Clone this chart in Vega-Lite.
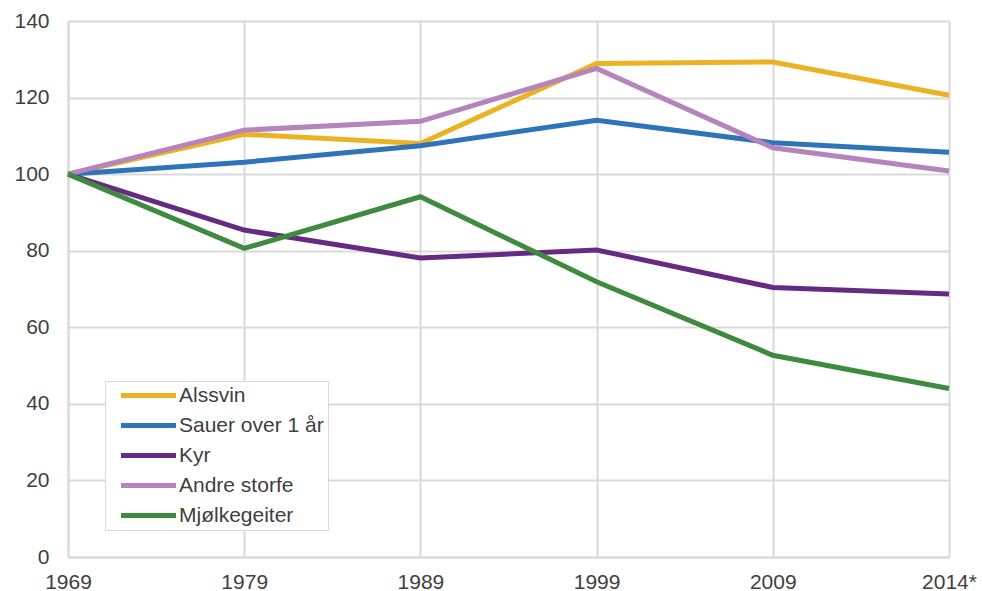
{
  "$schema": "https://vega.github.io/schema/vega-lite/v6.json",
  "width": 881,
  "height": 536,
  "autosize": {"type": "none"},
  "padding": {"left": 68, "top": 21, "right": 33, "bottom": 34},
  "background": "white",
  "config": {
    "view": {"stroke": null},
    "font": "Liberation Sans",
    "axis": {
      "labelFont": "Liberation Sans",
      "labelFontSize": 21,
      "labelColor": "#404040",
      "gridColor": "#d9d9d9",
      "gridWidth": 2,
      "domainColor": "#d9d9d9",
      "domainWidth": 2,
      "ticks": false,
      "title": null
    }
  },
  "data": {
    "values": [
      {"year": "1969", "series": "Alssvin", "value": 100},
      {"year": "1979", "series": "Alssvin", "value": 110.4},
      {"year": "1989", "series": "Alssvin", "value": 108.0},
      {"year": "1999", "series": "Alssvin", "value": 128.9},
      {"year": "2009", "series": "Alssvin", "value": 129.3},
      {"year": "2014*", "series": "Alssvin", "value": 120.6},
      {"year": "1969", "series": "Sauer over 1 år", "value": 100},
      {"year": "1979", "series": "Sauer over 1 år", "value": 103.1},
      {"year": "1989", "series": "Sauer over 1 år", "value": 107.4},
      {"year": "1999", "series": "Sauer over 1 år", "value": 114.1},
      {"year": "2009", "series": "Sauer over 1 år", "value": 108.2},
      {"year": "2014*", "series": "Sauer over 1 år", "value": 105.7},
      {"year": "1969", "series": "Kyr", "value": 100},
      {"year": "1979", "series": "Kyr", "value": 85.4},
      {"year": "1989", "series": "Kyr", "value": 78.1},
      {"year": "1999", "series": "Kyr", "value": 80.2},
      {"year": "2009", "series": "Kyr", "value": 70.4},
      {"year": "2014*", "series": "Kyr", "value": 68.7},
      {"year": "1969", "series": "Andre storfe", "value": 100},
      {"year": "1979", "series": "Andre storfe", "value": 111.5},
      {"year": "1989", "series": "Andre storfe", "value": 113.8},
      {"year": "1999", "series": "Andre storfe", "value": 127.6},
      {"year": "2009", "series": "Andre storfe", "value": 106.9},
      {"year": "2014*", "series": "Andre storfe", "value": 100.8},
      {"year": "1969", "series": "Mjølkegeiter", "value": 100},
      {"year": "1979", "series": "Mjølkegeiter", "value": 80.6},
      {"year": "1989", "series": "Mjølkegeiter", "value": 94.1},
      {"year": "1999", "series": "Mjølkegeiter", "value": 71.9},
      {"year": "2009", "series": "Mjølkegeiter", "value": 52.7},
      {"year": "2014*", "series": "Mjølkegeiter", "value": 44.0}
    ]
  },
  "mark": {"type": "line", "strokeWidth": 5, "strokeCap": "butt", "strokeJoin": "miter"},
  "encoding": {
    "x": {
      "field": "year",
      "type": "ordinal",
      "scale": {"type": "point", "padding": 0},
      "sort": ["1969", "1979", "1989", "1999", "2009", "2014*"],
      "axis": {"labelAngle": 0, "labelPadding": 14, "grid": true}
    },
    "y": {
      "field": "value",
      "type": "quantitative",
      "scale": {"domain": [0, 140], "nice": false},
      "axis": {"values": [0, 20, 40, 60, 80, 100, 120, 140], "labelPadding": 19, "grid": true}
    },
    "color": {
      "field": "series",
      "type": "nominal",
      "sort": ["Alssvin", "Sauer over 1 år", "Kyr", "Andre storfe", "Mjølkegeiter"],
      "scale": {
        "domain": ["Alssvin", "Sauer over 1 år", "Kyr", "Andre storfe", "Mjølkegeiter"],
        "range": ["#ebb224", "#2e74b8", "#662a82", "#b584bc", "#3e8a3e"]
      },
      "legend": {
        "title": null,
        "orient": "none",
        "legendX": 37,
        "legendY": 360,
        "symbolType": "M-4,0L4,0",
        "symbolSize": 189,
        "symbolStrokeWidth": 5,
        "labelFontSize": 21,
        "labelFont": "Liberation Sans",
        "labelColor": "#404040",
        "labelOffset": 20,
        "rowPadding": 8,
        "padding": 4,
        "symbolOffset": 29,
        "strokeColor": "#d9d9d9",
        "fillColor": "white",
        "labelLimit": 300
      }
    }
  }
}
